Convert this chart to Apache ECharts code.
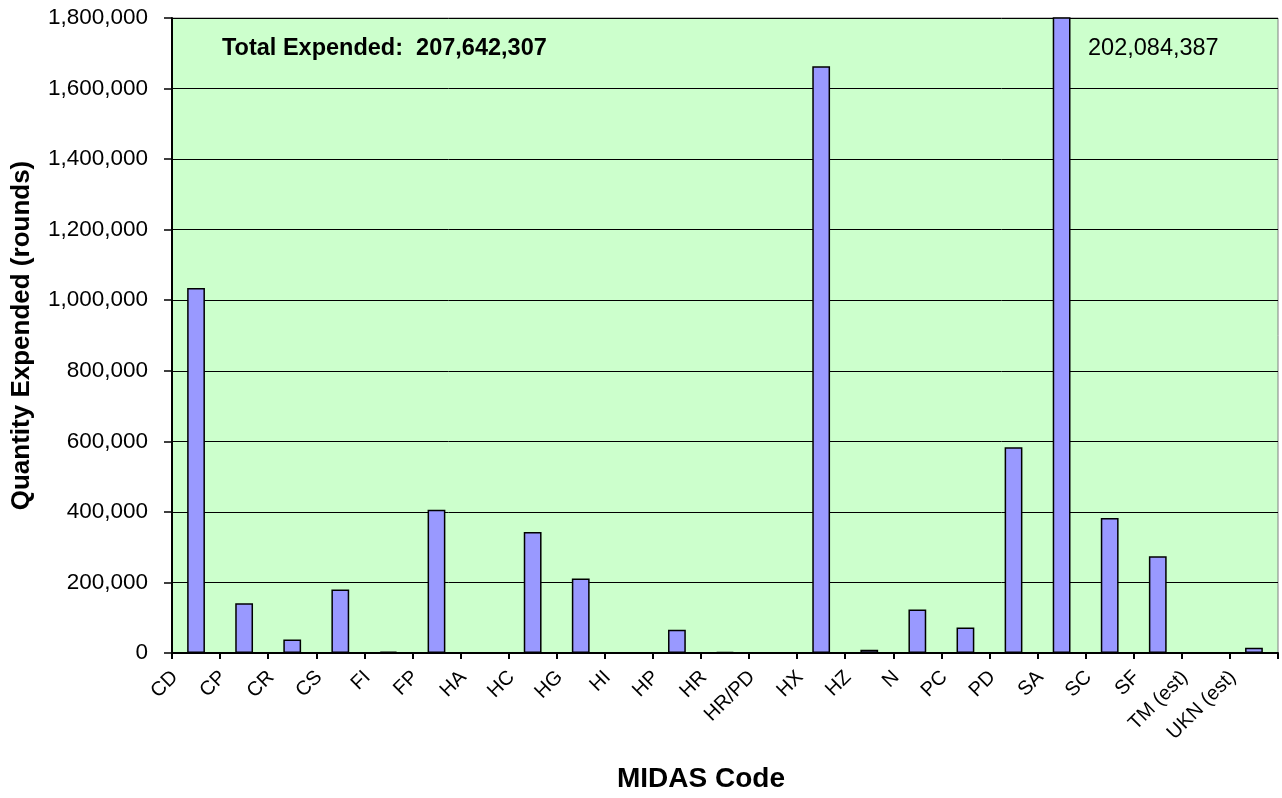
<!DOCTYPE html>
<html>
<head>
<meta charset="utf-8">
<title>Quantity Expended by MIDAS Code</title>
<script src="https://cdn.jsdelivr.net/npm/echarts@6/dist/echarts.min.js"></script>
<style>
  html, body { margin: 0; padding: 0; background: #fff; }
  #chart { width: 1282px; height: 798px; }
</style>
</head>
<body>
<div id="chart"></div>
<script>
var categories = ['CD', 'CP', 'CR', 'CS', 'FI', 'FP', 'HA', 'HC', 'HG', 'HI', 'HP', 'HR', 'HR/PD',
  'HX', 'HZ', 'N', 'PC', 'PD', 'SA', 'SC', 'SF', 'TM (est)', 'UKN (est)'];
var quantities = [1035000, 141000, 38000, 180000, 4000, 406000, 0, 343000, 211000, 0, 66000, 3000, 0,
  1663000, 9000, 123000, 72000, 583000, 202084387, 383000, 274000, 0, 15000];
var yMin = 0, yMax = 1800000, yStep = 200000;
var totalExpended = 207642307;
var saLabel = 202084387;

var fmt = function (v) { return Number(v).toLocaleString('en-US'); };
var font = '"Liberation Sans", Arial, sans-serif';

var chart = echarts.init(document.getElementById('chart'));
chart.setOption({
  animation: false,
  textStyle: { fontFamily: font },
  grid: {
    left: 172, right: 4, top: 18, bottom: 144,
    show: true, backgroundColor: '#ccffcc', borderColor: '#808080', borderWidth: 1
  },
  xAxis: {
    type: 'category',
    data: categories,
    name: 'MIDAS Code',
    nameLocation: 'middle',
    nameGap: 112,
    nameTextStyle: { fontSize: 28, fontWeight: 'bold', color: '#000', fontFamily: font, verticalAlign: 'top', padding: [0, 48, 0, 0] },
    axisLine: { lineStyle: { color: '#000', width: 2 } },
    axisTick: { show: true, length: 6, lineStyle: { color: '#000', width: 2 } },
    axisLabel: {
      interval: 0, rotate: 45, margin: 0,
      fontSize: 20, color: '#000', fontFamily: font,
      formatter: function (v) { return '{a|' + v + '}'; },
      rich: { a: { fontSize: 20, color: '#000', fontFamily: font, padding: [0, 30, 0, 0] } }
    },
    splitLine: { show: false }
  },
  yAxis: {
    type: 'value',
    min: yMin, max: yMax, interval: yStep,
    name: 'Quantity Expended (rounds)',
    nameLocation: 'middle',
    nameGap: 137,
    nameTextStyle: { fontSize: 26, fontWeight: 'bold', color: '#000', fontFamily: font },
    axisLine: { show: true, lineStyle: { color: '#000', width: 2 } },
    axisTick: { show: true, length: 8, lineStyle: { color: '#000', width: 1.5 } },
    axisLabel: { fontSize: 22.5, color: '#000', margin: 24, fontFamily: font, formatter: fmt },
    splitLine: { show: true, lineStyle: { color: '#000', width: 1 } }
  },
  series: [{
    type: 'bar',
    data: quantities,
    barWidth: '37%',
    clip: true,
    itemStyle: { color: '#9999ff', borderColor: '#000', borderWidth: 1.5 }
  }],
  graphic: [
    {
      type: 'text', left: 222, top: 37,
      style: { text: 'Total Expended:  ' + fmt(totalExpended), font: 'bold 23.5px ' + font, fill: '#000' }
    },
    {
      type: 'text', left: 1088, top: 37,
      style: { text: fmt(saLabel), font: '23.5px ' + font, fill: '#000' }
    }
  ]
});
</script>
</body>
</html>
